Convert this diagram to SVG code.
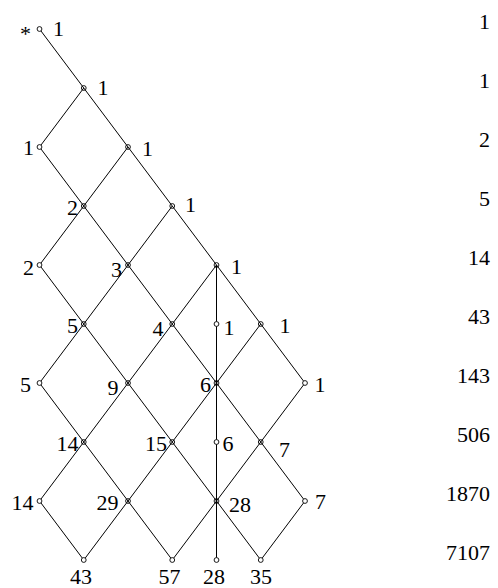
<svg xmlns="http://www.w3.org/2000/svg" width="498" height="588" viewBox="0 0 498 588">
<style>
.e{stroke:#000;stroke-width:1;fill:none}
.n circle{stroke:#000;stroke-width:0.9;fill:none}
.n circle.w{fill:#fff}
text{font-family:"Liberation Serif","Times New Roman",serif;font-size:22px;fill:#000}
.l{text-anchor:end}
.m{text-anchor:middle}
.r{text-anchor:end}
</style>
<rect width="498" height="588" fill="#fff"/>
<g id="connectors" class="e">
<line x1="39.5" y1="29" x2="305" y2="383"/>
<line x1="39.5" y1="147" x2="305" y2="501"/>
<line x1="39.5" y1="265" x2="260.75" y2="560"/>
<line x1="39.5" y1="383" x2="172.25" y2="560"/>
<line x1="39.5" y1="501" x2="83.75" y2="560"/>
<line x1="83.75" y1="88" x2="39.5" y2="147"/>
<line x1="128" y1="147" x2="39.5" y2="265"/>
<line x1="172.25" y1="206" x2="39.5" y2="383"/>
<line x1="216.5" y1="265" x2="39.5" y2="501"/>
<line x1="260.75" y1="324" x2="83.75" y2="560"/>
<line x1="305" y1="383" x2="172.25" y2="560"/>
<line x1="305" y1="501" x2="260.75" y2="560"/>
<line x1="216.5" y1="265" x2="216.5" y2="560"/>
</g>
<g id="n0" class="n"><circle class="w" cx="39.5" cy="29" r="2.4"/><text x="20" y="41">*</text><text x="53" y="35.5">1</text></g>
<g id="n1" class="n"><circle cx="83.75" cy="88" r="2.4"/><text x="97.5" y="95">1</text></g>
<g id="n2" class="n"><circle class="w" cx="39.5" cy="147" r="2.4"/><text class="l" x="34" y="155">1</text></g>
<g id="n3" class="n"><circle cx="128" cy="147" r="2.4"/><text x="142" y="156">1</text></g>
<g id="n4" class="n"><circle cx="83.75" cy="206" r="2.4"/><text class="l" x="78" y="215">2</text></g>
<g id="n5" class="n"><circle cx="172.25" cy="206" r="2.4"/><text x="185" y="212">1</text></g>
<g id="n6" class="n"><circle class="w" cx="39.5" cy="265" r="2.4"/><text class="l" x="34" y="275">2</text></g>
<g id="n7" class="n"><circle cx="128" cy="265" r="2.4"/><text class="l" x="122" y="277">3</text></g>
<g id="n8" class="n"><circle cx="216.5" cy="265" r="2.4"/><text x="231" y="274">1</text></g>
<g id="n9" class="n"><circle cx="83.75" cy="324" r="2.4"/><text class="l" x="78" y="333">5</text></g>
<g id="n10" class="n"><circle cx="172.25" cy="324" r="2.4"/><text class="l" x="163.5" y="336">4</text></g>
<g id="n11" class="n"><circle class="w" cx="216.5" cy="324" r="2.4"/><text x="223.5" y="335">1</text></g>
<g id="n12" class="n"><circle cx="260.75" cy="324" r="2.4"/><text x="279.5" y="333">1</text></g>
<g id="n13" class="n"><circle class="w" cx="39.5" cy="383" r="2.4"/><text class="l" x="31" y="392">5</text></g>
<g id="n14" class="n"><circle cx="128" cy="383" r="2.4"/><text class="l" x="118.5" y="395">9</text></g>
<g id="n15" class="n"><circle cx="216.5" cy="383" r="2.4"/><text class="l" x="211" y="392">6</text></g>
<g id="n16" class="n"><circle class="w" cx="305" cy="383" r="2.4"/><text x="314.5" y="392">1</text></g>
<g id="n17" class="n"><circle cx="83.75" cy="442" r="2.4"/><text class="l" x="78.5" y="451">14</text></g>
<g id="n18" class="n"><circle cx="172.25" cy="442" r="2.4"/><text class="l" x="167" y="451">15</text></g>
<g id="n19" class="n"><circle class="w" cx="216.5" cy="442" r="2.4"/><text x="222.5" y="451">6</text></g>
<g id="n20" class="n"><circle cx="260.75" cy="442" r="2.4"/><text x="279" y="457">7</text></g>
<g id="n21" class="n"><circle class="w" cx="39.5" cy="501" r="2.4"/><text class="l" x="33.5" y="510">14</text></g>
<g id="n22" class="n"><circle cx="128" cy="501" r="2.4"/><text class="l" x="118.5" y="510">29</text></g>
<g id="n23" class="n"><circle cx="216.5" cy="501" r="2.4"/><text x="229" y="512">28</text></g>
<g id="n24" class="n"><circle class="w" cx="305" cy="501" r="2.4"/><text x="315" y="509">7</text></g>
<g id="n25" class="n"><circle class="w" cx="83.75" cy="560" r="2.4"/><text class="m" x="81" y="584">43</text></g>
<g id="n26" class="n"><circle class="w" cx="172.25" cy="560" r="2.4"/><text class="m" x="169.5" y="584">57</text></g>
<g id="n27" class="n"><circle class="w" cx="216.5" cy="560" r="2.4"/><text class="m" x="214" y="584">28</text></g>
<g id="n28" class="n"><circle class="w" cx="260.75" cy="560" r="2.4"/><text class="m" x="261" y="584">35</text></g>
<g id="counts">
<text class="r" x="490" y="29">1</text>
<text class="r" x="490" y="88">1</text>
<text class="r" x="490" y="147">2</text>
<text class="r" x="490" y="206">5</text>
<text class="r" x="490" y="265">14</text>
<text class="r" x="490" y="324">43</text>
<text class="r" x="490" y="383">143</text>
<text class="r" x="490" y="442">506</text>
<text class="r" x="490" y="501">1870</text>
<text class="r" x="490" y="560">7107</text>
</g>
</svg>
